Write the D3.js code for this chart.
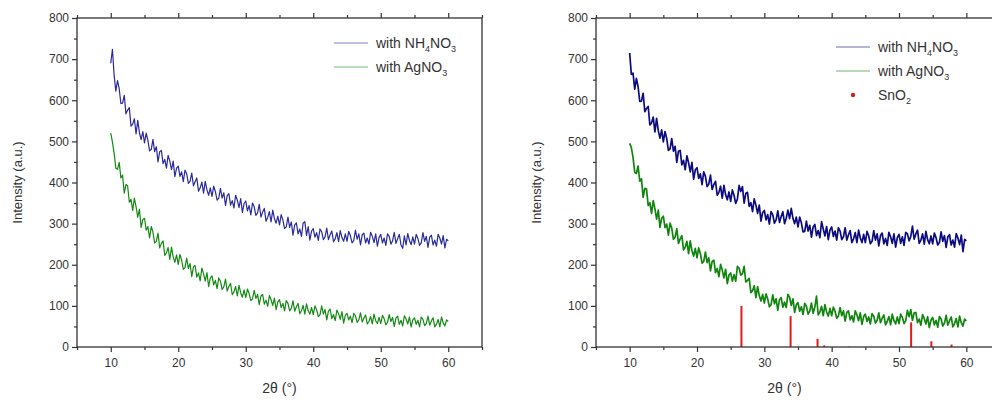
<!DOCTYPE html>
<html>
<head>
<meta charset="utf-8">
<script src="https://cdn.jsdelivr.net/npm/d3@7"></script>
<style>
body { margin: 0; background: #fff; }
text { font-family: Arial, "Liberation Sans", sans-serif; fill: #333; }
</style>
</head>
<body>
<svg id="chart" width="992" height="402"></svg>
<script>
// samples start at 10 deg, one every 0.25 deg, up to 60 deg
var THETA_START = 10, THETA_STEP = 0.25;

// left panel, with NH4NO3
var left_NH4NO3 = [
  690, 724, 661, 622, 648, 628, 592, 593, 612, 567, 576, 582, 537, 542, 555, 518, 551, 521, 504, 524,
  496, 520, 503, 477, 480, 505, 475, 487, 450, 475, 478, 446, 456, 435, 466, 452, 431, 452, 414, 435,
  440, 415, 426, 402, 430, 421, 398, 403, 423, 392, 402, 411, 379, 387, 401, 374, 403, 382, 369, 387,
  366, 391, 378, 357, 362, 386, 362, 375, 344, 368, 373, 345, 356, 338, 369, 357, 339, 361, 327, 349,
  355, 331, 344, 321, 350, 341, 320, 326, 347, 316, 328, 337, 306, 315, 329, 304, 333, 312, 301, 318,
  297, 322, 309, 288, 292, 316, 291, 304, 272, 297, 302, 275, 287, 269, 301, 305, 271, 293, 260, 282,
  288, 267, 278, 259, 287, 280, 261, 268, 289, 261, 273, 282, 256, 263, 278, 256, 283, 266, 257, 275,
  257, 281, 271, 253, 259, 284, 262, 275, 248, 273, 277, 253, 265, 250, 279, 269, 254, 275, 245, 266,
  274, 253, 265, 247, 275, 269, 250, 258, 279, 252, 263, 274, 248, 240, 270, 248, 276, 259, 249, 268,
  250, 274, 264, 247, 253, 278, 257, 269, 242, 267, 272, 248, 260, 245, 274, 265, 250, 271, 241, 262,
  258
];

// left panel, with AgNO3
var left_AgNO3 = [
  520, 498, 471, 435, 432, 449, 411, 418, 374, 395, 392, 352, 359, 332, 362, 341, 316, 335, 291, 310,
  313, 284, 293, 265, 293, 280, 253, 257, 277, 241, 252, 258, 223, 229, 242, 213, 243, 219, 206, 224,
  201, 225, 211, 189, 193, 216, 191, 203, 171, 195, 198, 170, 180, 161, 192, 178, 160, 181, 147, 168,
  173, 151, 162, 142, 168, 160, 140, 146, 165, 136, 147, 155, 127, 134, 147, 124, 150, 132, 121, 139,
  120, 141, 130, 113, 117, 138, 118, 128, 103, 124, 128, 104, 114, 99, 125, 115, 101, 119, 91, 109,
  115, 96, 106, 88, 113, 106, 88, 94, 112, 87, 98, 106, 81, 88, 101, 80, 105, 88, 80, 96,
  79, 100, 90, 74, 79, 100, 80, 91, 66, 87, 92, 69, 79, 64, 90, 81, 67, 86, 58, 77,
  82, 66, 75, 59, 82, 76, 60, 66, 83, 61, 70, 78, 56, 62, 74, 56, 80, 64, 57, 72,
  57, 77, 69, 54, 60, 79, 62, 72, 50, 70, 75, 55, 65, 51, 76, 68, 56, 73, 49, 66,
  71, 55, 65, 49, 73, 67, 52, 57, 75, 53, 63, 71, 49, 55, 67, 49, 73, 58, 51, 66,
  62
];

// right panel, with NH4NO3
var right_NH4NO3 = [
  715, 663, 666, 627, 653, 633, 597, 598, 617, 572, 580, 585, 540, 545, 559, 523, 556, 526, 508, 528,
  499, 524, 507, 478, 482, 507, 476, 488, 449, 476, 478, 443, 454, 431, 465, 448, 426, 449, 408, 431,
  436, 410, 421, 395, 426, 415, 390, 396, 418, 383, 395, 403, 369, 376, 391, 362, 393, 370, 358, 377,
  354, 382, 369, 349, 360, 393, 378, 390, 350, 374, 376, 342, 351, 329, 360, 345, 325, 345, 306, 327,
  332, 309, 322, 299, 329, 322, 301, 309, 331, 303, 317, 329, 300, 313, 333, 312, 337, 313, 300, 316,
  292, 316, 302, 280, 281, 306, 282, 296, 267, 292, 298, 271, 283, 266, 305, 287, 270, 293, 261, 284,
  292, 269, 282, 260, 290, 282, 261, 268, 290, 260, 273, 283, 254, 263, 278, 254, 284, 265, 254, 274,
  254, 281, 270, 251, 257, 283, 260, 275, 246, 271, 277, 251, 264, 247, 279, 268, 252, 275, 243, 266,
  274, 252, 268, 247, 279, 275, 258, 269, 294, 262, 275, 284, 252, 260, 275, 250, 281, 261, 251, 270,
  251, 277, 266, 248, 254, 280, 257, 271, 242, 268, 273, 248, 260, 243, 276, 265, 249, 272, 232, 262,
  258
];

// right panel, with AgNO3
var right_AgNO3 = [
  495, 485, 461, 425, 422, 440, 403, 409, 364, 386, 384, 344, 351, 325, 356, 336, 311, 333, 291, 313,
  318, 290, 299, 272, 301, 289, 262, 267, 288, 252, 263, 271, 236, 243, 257, 227, 258, 234, 221, 240,
  217, 241, 227, 204, 208, 231, 205, 217, 185, 208, 211, 181, 191, 171, 201, 187, 168, 189, 154, 175,
  180, 160, 176, 160, 196, 192, 175, 178, 196, 158, 162, 167, 132, 137, 149, 120, 147, 125, 112, 128,
  107, 129, 117, 98, 103, 127, 105, 117, 89, 115, 120, 97, 109, 96, 128, 121, 101, 117, 84, 103,
  108, 87, 98, 79, 106, 99, 80, 87, 107, 82, 97, 124, 78, 85, 99, 76, 103, 85, 75, 94,
  76, 97, 87, 70, 75, 96, 76, 88, 63, 84, 88, 66, 76, 61, 88, 78, 64, 83, 55, 74,
  80, 62, 73, 56, 81, 75, 58, 65, 83, 59, 70, 78, 54, 62, 74, 54, 80, 64, 56, 73,
  57, 80, 72, 57, 64, 89, 74, 91, 65, 83, 84, 59, 68, 53, 79, 69, 56, 74, 47, 65,
  72, 54, 65, 48, 74, 68, 51, 58, 77, 53, 64, 73, 49, 57, 69, 49, 75, 59, 51, 68,
  63
];

// SnO2 reference pattern (stick positions and relative intensities)
var snO2_theta = [26.6, 33.9, 37.9, 38.9, 42.6, 51.8, 54.8, 57.8];
var snO2_int = [100, 75, 20, 4, 1, 60, 14, 6];

var xTicks = [10, 20, 30, 40, 50, 60];
var xMinor = [5, 15, 25, 35, 45, 55, 65];
var yTicks = [0, 100, 200, 300, 400, 500, 600, 700, 800];
var yMinor = [50, 150, 250, 350, 450, 550, 650, 750];

var svg = d3.select("#chart");

var TOP = 18, BOTTOM = 347;

function drawPanel(left, right, series, opts) {
    var x = d3.scaleLinear().domain([5, 65]).range([left, right]);
    var y = d3.scaleLinear().domain([0, 800]).range([BOTTOM, TOP]);
    var g = svg.append("g");

    // series
    var line = d3.line()
        .x(function(d, i) { return x(THETA_START + i * THETA_STEP); })
        .y(function(d) { return y(d); });

    series.forEach(function(s) {
        g.append("path")
            .datum(s.values)
            .attr("fill", "none")
            .attr("stroke", s.color)
            .attr("stroke-width", s.width)
            .attr("stroke-linejoin", "round")
            .attr("d", line);
    });

    if (opts.sticks) {
        g.selectAll(".stick")
            .data(snO2_theta)
            .enter().append("line")
            .attr("class", "stick")
            .attr("x1", function(d) { return x(d); })
            .attr("x2", function(d) { return x(d); })
            .attr("y1", y(0))
            .attr("y2", function(d, i) { return y(snO2_int[i]); })
            .attr("stroke", "#e01b1b")
            .attr("stroke-width", 2);
    }

    // axes
    function style(a) {
        a.select(".domain").remove();
        a.selectAll(".tick line").attr("stroke", "#333").attr("stroke-width", 1.2);
        a.selectAll(".tick text").attr("font-size", 12).attr("fill", "#333")
            .attr("font-family", "Arial, 'Liberation Sans', sans-serif");
    }

    g.append("g").attr("transform", "translate(0," + BOTTOM + ")")
        .call(d3.axisBottom(x).tickValues(xTicks).tickSize(5).tickPadding(6).tickFormat(d3.format("d")))
        .call(style);
    g.append("g").attr("transform", "translate(0," + BOTTOM + ")")
        .call(d3.axisBottom(x).tickValues(xMinor).tickSize(3).tickFormat(""))
        .call(style);
    g.append("g").attr("transform", "translate(0," + TOP + ")")
        .call(d3.axisTop(x).tickValues(xTicks).tickSize(5).tickFormat(""))
        .call(style);
    g.append("g").attr("transform", "translate(0," + TOP + ")")
        .call(d3.axisTop(x).tickValues(xMinor).tickSize(3).tickFormat(""))
        .call(style);
    g.append("g").attr("transform", "translate(" + left + ",0)")
        .call(d3.axisLeft(y).tickValues(yTicks).tickSize(5).tickPadding(3))
        .call(style);
    g.append("g").attr("transform", "translate(" + left + ",0)")
        .call(d3.axisLeft(y).tickValues(yMinor).tickSize(3).tickFormat(""))
        .call(style);

    g.append("rect")
        .attr("x", left).attr("y", TOP)
        .attr("width", right - left).attr("height", BOTTOM - TOP)
        .attr("fill", "none").attr("stroke", "#333").attr("stroke-width", 1.3);

    // axis titles
    g.append("text")
        .attr("x", x(opts.xLabelAt)).attr("y", 393)
        .attr("text-anchor", "middle").attr("font-size", 14)
        .text("2\u03b8 (\u00b0)");
    g.append("text")
        .attr("transform", "translate(" + opts.yLabelX + "," + y(400) + ") rotate(-90)")
        .attr("text-anchor", "middle").attr("font-size", 13)
        .text("Intensity (a.u.)");

    // legend
    var lg = g.append("g").attr("transform", "translate(" + opts.legendX + "," + opts.legendY + ")");
    opts.legend.forEach(function(e, i) {
        var ly = i * 24;
        if (e.dot) {
            lg.append("circle").attr("cx", 17).attr("cy", ly).attr("r", 2.2).attr("fill", e.color);
        } else {
            lg.append("line").attr("x1", 0).attr("x2", 34).attr("y1", ly).attr("y2", ly)
                .attr("stroke", e.color).attr("stroke-width", 1).attr("opacity", 0.6);
        }
        var t = lg.append("text").attr("x", 42).attr("y", ly + 5).attr("font-size", 14);
        var shifted = false;
        e.parts.forEach(function(p) {
            var ts = t.append("tspan").text(p.t);
            if (p.sub) {
                ts.attr("font-size", 9).attr("dy", 4);
                shifted = true;
            } else if (shifted) {
                ts.attr("dy", -4);
                shifted = false;
            }
        });
    });
}

var nh4Parts = [{t: "with NH"}, {t: "4", sub: true}, {t: "NO"}, {t: "3", sub: true}];
var agParts = [{t: "with AgNO"}, {t: "3", sub: true}];
var snParts = [{t: "SnO"}, {t: "2", sub: true}];

drawPanel(77, 482, [
    {values: left_NH4NO3, color: "#2a2a9c", width: 1.2},
    {values: left_AgNO3, color: "#138a13", width: 1.2}
], {
    sticks: false, xLabelAt: 35, yLabelX: 22, legendX: 334, legendY: 43,
    legend: [
        {color: "#2a2a9c", parts: nh4Parts},
        {color: "#138a13", parts: agParts}
    ]
});

drawPanel(596, 1000, [
    {values: right_NH4NO3, color: "#0c0c80", width: 1.7},
    {values: right_AgNO3, color: "#10860f", width: 1.7}
], {
    sticks: true, xLabelAt: 33, yLabelX: 541, legendX: 836, legendY: 47,
    legend: [
        {color: "#0c0c80", parts: nh4Parts},
        {color: "#10860f", parts: agParts},
        {color: "#e01b1b", parts: snParts, dot: true}
    ]
});
</script>
</body>
</html>
